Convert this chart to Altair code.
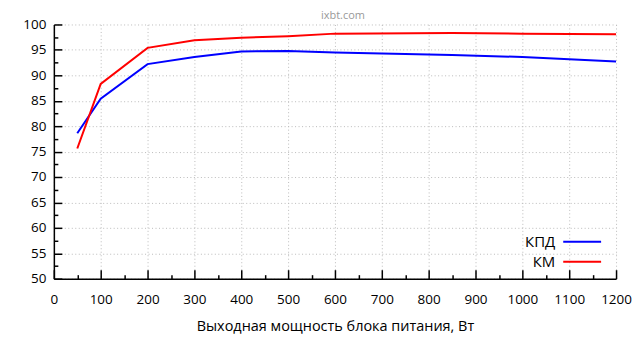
import altair as alt
import pandas as pd

power = [50, 100, 200, 300, 400, 500, 600, 850, 1000, 1200]
kpd = [78.6, 85.4, 92.2, 93.6, 94.7, 94.8, 94.5, 94.0, 93.6, 92.7]
km = [75.6, 88.3, 95.4, 96.9, 97.4, 97.7, 98.2, 98.3, 98.2, 98.1]
series_names = ["КПД", "КМ"]
x_ticks = list(range(0, 1201, 100))
x_minor = list(range(50, 1200, 100))
y_ticks = list(range(50, 101, 5))
y_minor = [52.5 + 5 * i for i in range(10)]

rows = []
for name, vals in zip(series_names, [kpd, km]):
    for p, v in zip(power, vals):
        rows.append({"power": p, "value": v, "series": name})
df = pd.DataFrame(rows)

W, H = 564, 255
FONT = "Open Sans"

xscale = alt.Scale(domain=[0, 1200], nice=False, zero=False)
yscale = alt.Scale(domain=[50, 100], nice=False, zero=False)

base = alt.Chart(df)

lines = base.mark_line(strokeWidth=2).encode(
    x=alt.X("power:Q", scale=xscale,
            axis=alt.Axis(values=x_ticks, format="d",
                          title="Выходная мощность блока питания, Вт",
                          tickSize=0, labelPadding=14, labelFontSize=13.5, labelFont=FONT,
                          labelColor="#000", titleFont=FONT, titleFontSize=14.5,
                          titleFontWeight="normal", titleColor="#000", titlePadding=14,
                          domainColor="#000", domainWidth=1.5,
                          grid=True, gridColor="#bbbbbb", gridDash=[1, 2.5], gridWidth=1,
                          labelFlush=False, labelOverlap=False)),
    y=alt.Y("value:Q", scale=yscale,
            axis=alt.Axis(values=y_ticks, format="d", title=None, tickSize=0, labelPadding=8,
                          labelFontSize=13.5, labelFont=FONT, labelColor="#000",
                          domainColor="#000", domainWidth=1.5,
                          grid=True, gridColor="#bbbbbb", gridDash=[1, 2.5], gridWidth=1,
                          labelFlush=False, labelOverlap=False)),
    color=alt.Color("series:N",
                    scale=alt.Scale(domain=series_names, range=["#0000ff", "#ff0000"]),
                    sort=series_names,
                    legend=alt.Legend(title=None, orient="none", legendX=519.5, legendY=207.5,
                                      symbolType="M-2,0H2", symbolSize=361,
                                      symbolStrokeWidth=2, symbolFillColor="transparent",
                                      labelAlign="right",
                                      labelOffset={"expr": "-37.5"}, labelFontSize=15,
                                      labelFont=FONT, labelColor="#000", rowPadding=1)),
)

major_ticks = base.mark_point(opacity=0).encode(
    x=alt.X("power:Q", scale=xscale,
            axis=alt.Axis(orient="top", offset=-H, values=x_ticks, labels=False, title=None,
                          domain=False, grid=False, tickSize=9, tickColor="#000", tickWidth=1.5)),
    y=alt.Y("value:Q", scale=yscale,
            axis=alt.Axis(orient="right", offset=-W, values=y_ticks, labels=False, title=None,
                          domain=False, grid=False, tickSize=8, tickColor="#000", tickWidth=1.5)),
)

minor_ticks = base.mark_point(opacity=0).encode(
    x=alt.X("power:Q", scale=xscale,
            axis=alt.Axis(orient="top", offset=-H, values=x_minor, labels=False, title=None,
                          domain=False, grid=False, tickSize=4, tickColor="#000", tickWidth=1.5)),
    y=alt.Y("value:Q", scale=yscale,
            axis=alt.Axis(orient="right", offset=-W, values=y_minor, labels=False, title=None,
                          domain=False, grid=False, tickSize=4, tickColor="#000", tickWidth=1.5)),
)

chart = alt.layer(lines, major_ticks, minor_ticks).resolve_axis(
    x="independent", y="independent"
).properties(
    width=W, height=H,
    padding={"left": 14, "top": 2, "right": 0, "bottom": 5},
    title=alt.TitleParams("ixbt.com", fontSize=11, font=FONT, fontWeight="normal",
                          color="#999999", anchor="middle", frame="group",
                          offset={"expr": "-4"}, dx=8),
).configure_view(stroke=None)

chart.save("out.html", embed_options={"renderer": "svg", "actions": False})
